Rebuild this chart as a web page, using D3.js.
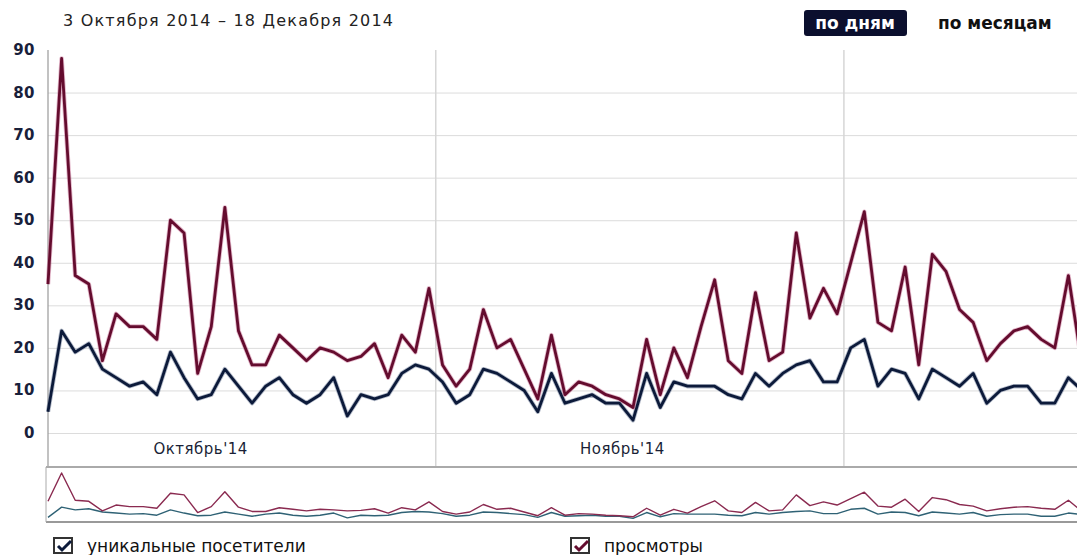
<!DOCTYPE html>
<html>
<head>
<meta charset="utf-8">
<script src="https://cdn.jsdelivr.net/npm/d3@7"></script>
<style>
  body { margin: 0; background: #fff; }
  text { font-family: "DejaVu Sans", Verdana, sans-serif; }
</style>
</head>
<body>
<script>
var width = 1077, height = 555;

// daily values, 3 Oct 2014 - 18 Dec 2014
var startDate = new Date(2014, 9, 3, 12);
var visitors = [5, 24, 19, 21, 15, 13, 11, 12, 9, 19, 13, 8, 9, 15, 11, 7, 11, 13, 9, 7,
    9, 13, 4, 9, 8, 9, 14, 16, 15, 12, 7, 9, 15, 14, 12, 10, 5, 14, 7, 8,
    9, 7, 7, 3, 14, 6, 12, 11, 11, 11, 9, 8, 14, 11, 14, 16, 17, 12, 12, 20,
    22, 11, 15, 14, 8, 15, 13, 11, 14, 7, 10, 11, 11, 7, 7, 13, 10];
var views = [35, 88, 37, 35, 17, 28, 25, 25, 22, 50, 47, 14, 25, 53, 24, 16, 16, 23, 20, 17,
    20, 19, 17, 18, 21, 13, 23, 19, 34, 16, 11, 15, 29, 20, 22, 15, 8, 23, 9, 12,
    11, 9, 8, 6, 22, 9, 20, 13, 25, 36, 17, 14, 33, 17, 19, 47, 27, 34, 28, 40,
    52, 26, 24, 39, 16, 42, 38, 29, 26, 17, 21, 24, 25, 22, 20, 37, 16];
var yTicks = [0, 10, 20, 30, 40, 50, 60, 70, 80, 90];
var monthLabels = [
    {date: new Date(2014, 9, 14, 12), label: "Октябрь'14"},
    {date: new Date(2014, 10, 14, 12), label: "Ноябрь'14"}
];
var title = "3 Октября 2014 – 18 Декабря 2014";
var series = [
    {name: 'уникальные посетители', values: visitors, color: '#0c1a3a', halo: '#5a6a8a', mini: '#2f6275'},
    {name: 'просмотры', values: views, color: '#640c2e', halo: '#c0608a', mini: '#8a2a50'}
];

var days = visitors.map(function(v, i) { return d3.timeDay.offset(startDate, i); });

var svg = d3.select('body')
    .append('svg')
    .attr('width', width)
    .attr('height', height);

//scales
var xScale = d3.scaleTime()
    .domain([days[0], days[days.length - 1]])
    .range([48, 1082]);

var yScale = d3.scaleLinear()
    .domain([0, 90])
    .range([433, 50]);

var yMini = d3.scaleLinear()
    .domain([0, d3.max(views)])
    .range([520, 473]);

//header
svg.append('text')
    .text(title)
    .attr('x', 63)
    .attr('y', 26)
    .style('font-size', '16px')
    .style('letter-spacing', '1.2px')
    .style('fill', '#222');

svg.append('rect')
    .attr('x', 804)
    .attr('y', 10)
    .attr('width', 103)
    .attr('height', 26)
    .attr('rx', 3)
    .style('fill', '#0b0f2e');

svg.append('text')
    .text('по дням')
    .attr('x', 855)
    .attr('y', 29)
    .attr('text-anchor', 'middle')
    .style('font-size', '17px')
    .style('font-weight', 'bold')
    .style('fill', '#fff');

svg.append('text')
    .text('по месяцам')
    .attr('x', 938)
    .attr('y', 29)
    .style('font-size', '17px')
    .style('font-weight', 'bold')
    .style('fill', '#111');

//grid + y axis
var yAxis = svg.append('g')
    .attr('transform', 'translate(48,0)')
    .call(d3.axisLeft(yScale)
        .tickValues(yTicks.filter(function(t) { return t < 90; }))
        .tickSize(-1040));
yAxis.select('.domain').remove();
yAxis.selectAll('line').style('stroke', '#dcdcdc');
yAxis.selectAll('text').remove();

svg.append('g')
    .selectAll('text')
    .data(yTicks)
    .enter()
    .append('text')
    .text(function(d) { return d; })
    .attr('x', 35)
    .attr('y', function(d) { return yScale(d) + 5; })
    .attr('text-anchor', 'end')
    .style('font-size', '15px')
    .style('font-weight', 'bold')
    .style('letter-spacing', '0.5px')
    .style('fill', '#18203a');

var monthStarts = d3.timeMonth.range(days[0], days[days.length - 1]);
svg.append('g')
    .selectAll('line')
    .data(monthStarts)
    .enter()
    .append('line')
    .attr('x1', function(d) { return xScale(d); })
    .attr('x2', function(d) { return xScale(d); })
    .attr('y1', 50)
    .attr('y2', 467)
    .style('stroke', '#d6d6d6')
    .style('stroke-width', 1.5);

svg.append('line')
    .attr('x1', 48).attr('x2', 48)
    .attr('y1', 50).attr('y2', 467)
    .style('stroke', '#999')
    .style('stroke-width', 1.2);

svg.append('g')
    .selectAll('text')
    .data(monthLabels)
    .enter()
    .append('text')
    .text(function(d) { return d.label; })
    .attr('x', function(d) { return xScale(d.date) + 3; })
    .attr('y', 454)
    .attr('text-anchor', 'middle')
    .style('font-size', '15px')
    .style('letter-spacing', '0.5px')
    .style('fill', '#1a1f36');

//navigator frame
svg.append('line')
    .attr('x1', 46).attr('x2', width)
    .attr('y1', 467).attr('y2', 467)
    .style('stroke', '#aaa')
    .style('stroke-width', 2);
svg.append('line')
    .attr('x1', 46).attr('x2', width)
    .attr('y1', 522).attr('y2', 522)
    .style('stroke', '#999')
    .style('stroke-width', 2);
svg.append('line')
    .attr('x1', 46).attr('x2', 46)
    .attr('y1', 467).attr('y2', 522)
    .style('stroke', '#aaa')
    .style('stroke-width', 1);

//lines
svg.append('clipPath').attr('id', 'plot')
    .append('rect')
    .attr('x', 46).attr('y', 40)
    .attr('width', width - 46).attr('height', 490);

var line = d3.line()
    .x(function(d, i) { return xScale(days[i]); })
    .y(function(d) { return yScale(d); });

var miniLine = d3.line()
    .x(function(d, i) { return xScale(days[i]); })
    .y(function(d) { return yMini(d); });

var plot = svg.append('g').attr('clip-path', 'url(#plot)');

series.forEach(function(s) {
    plot.append('path')
        .datum(s.values)
        .attr('d', miniLine)
        .style('fill', 'none')
        .style('stroke', s.mini)
        .style('stroke-width', 1.4)
        .style('stroke-linejoin', 'round');
});

series.forEach(function(s) {
    plot.append('path')
        .datum(s.values)
        .attr('d', line)
        .style('fill', 'none')
        .style('stroke', s.halo)
        .style('stroke-opacity', 0.45)
        .style('stroke-width', 4.5)
        .style('stroke-linejoin', 'round');
    plot.append('path')
        .datum(s.values)
        .attr('d', line)
        .style('fill', 'none')
        .style('stroke', s.color)
        .style('stroke-width', 2.8)
        .style('stroke-linejoin', 'round');
});

//legend
var legendX = [54, 571];
series.forEach(function(s, i) {
    var lg = svg.append('g').attr('transform', 'translate(' + legendX[i] + ',538)');
    lg.append('rect')
        .attr('x', 0).attr('y', 0)
        .attr('width', 18).attr('height', 15)
        .style('fill', '#fff')
        .style('stroke', '#333')
        .style('stroke-width', 2);
    lg.append('path')
        .attr('d', 'M4,8 L8,12 L17,3')
        .style('fill', 'none')
        .style('stroke', s.color)
        .style('stroke-width', 3);
    lg.append('text')
        .text(s.name)
        .attr('x', 33)
        .attr('y', 14)
        .style('font-size', '17px')
        .style('fill', '#111');
});
</script>
</body>
</html>
